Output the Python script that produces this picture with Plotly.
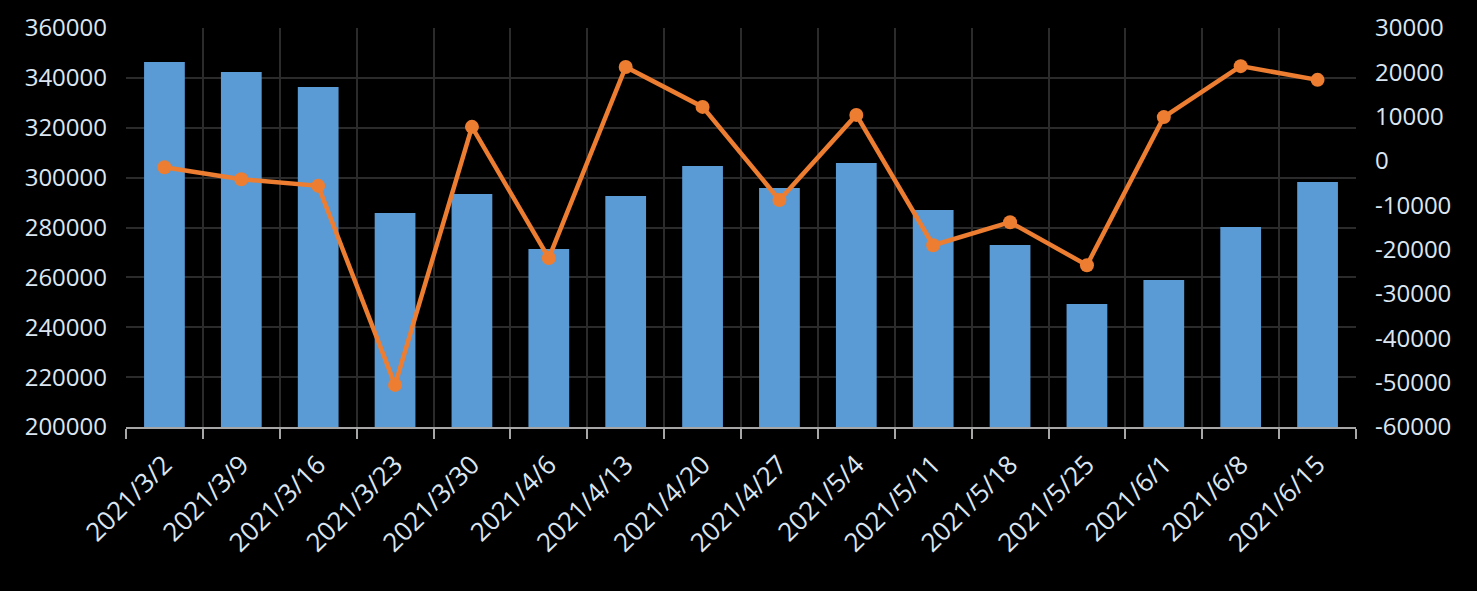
import plotly.graph_objects as go

categories = ["2021/3/2", "2021/3/9", "2021/3/16", "2021/3/23", "2021/3/30", "2021/4/6",
              "2021/4/13", "2021/4/20", "2021/4/27", "2021/5/4", "2021/5/11", "2021/5/18",
              "2021/5/25", "2021/6/1", "2021/6/8", "2021/6/15"]
bar_values = [346400, 342400, 336300, 285800, 293400, 271400, 292600, 304700,
              295800, 305900, 287000, 273000, 249300, 258900, 280200, 298200]
line_values = [-1400, -4100, -5600, -50500, 7700, -21900, 21200, 12200,
               -8800, 10400, -19000, -13800, -23500, 9900, 21400, 18300]

left_ticks = list(range(200000, 360001, 20000))
right_ticks = list(range(-60000, 30001, 10000))

font_color = "#dce6f2"
grid_color = "#2b2b2b"
axis_color = "#a6a6a6"
fsize = 24

fig = go.Figure()
fig.add_trace(go.Bar(x=categories, y=bar_values, marker_color="#5B9BD5",
                     marker_line_width=0, yaxis="y", name="bar"))
fig.add_trace(go.Scatter(x=categories, y=line_values, mode="lines+markers",
                         line=dict(color="#ED7D31", width=4.5),
                         marker=dict(color="#ED7D31", size=14),
                         yaxis="y2", name="line"))

fig.update_layout(
    width=1477, height=591,
    paper_bgcolor="black", plot_bgcolor="black",
    margin=dict(l=126, r=121, t=28, b=164),
    showlegend=False,
    bargap=0.47,
    font=dict(family="Open Sans", size=fsize, color=font_color),
    xaxis=dict(type="category", range=[-0.5, len(categories) - 0.5],
               tickangle=-45, tickson="boundaries",
               ticks="outside", ticklen=10, tickcolor=axis_color, tickwidth=2,
               showgrid=True, gridcolor=grid_color, gridwidth=2,
               showline=True, linecolor=axis_color, linewidth=2,
               automargin=False, ticklabelstandoff=10,
               tickfont=dict(size=26, color=font_color)),
    yaxis=dict(range=[200000, 360000], tickvals=left_ticks,
               ticktext=[str(v) for v in left_ticks],
               showgrid=True, gridcolor=grid_color, gridwidth=2,
               zeroline=False, showline=False, ticks="", ticklabelstandoff=18,
               automargin=False,
               tickfont=dict(size=fsize, color=font_color)),
    yaxis2=dict(range=[-60000, 30000], tickvals=right_ticks,
                ticktext=[str(v) for v in right_ticks],
                overlaying="y", side="right", showgrid=False, zeroline=False,
                showline=False, ticks="", ticklabelstandoff=18,
                automargin=False,
                tickfont=dict(size=fsize, color=font_color)),
)

fig.write_html("out.html", config={"displayModeBar": False},
               post_script="document.body.style.margin='0';document.body.style.background='black';")
